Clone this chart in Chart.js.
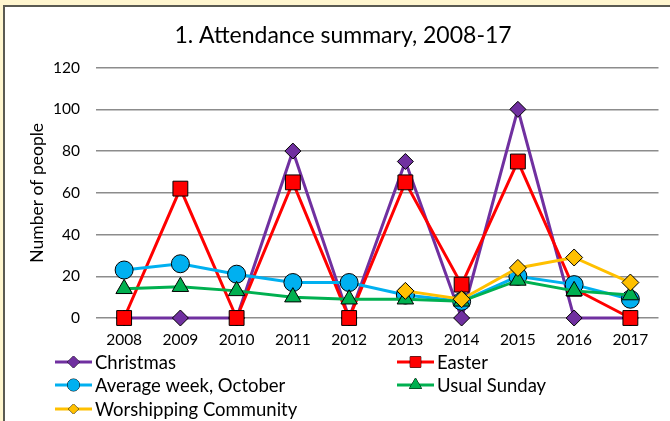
<!DOCTYPE html>
<html>
<head>
<meta charset="utf-8">
<script src="https://cdn.jsdelivr.net/npm/chart.js@4.4.1/dist/chart.umd.min.js"></script>
<style>
  html, body { margin: 0; padding: 0; background: #fff6cf; overflow: hidden; }
  #frame {
    position: absolute; left: 3px; top: 5px; width: 680px; height: 430px;
    background: #fff; border-top: 2px solid #5a5a52; border-left: 2px solid #5a5a52;
  }
  #wrap { position: absolute; left: 0; top: 0; width: 670px; height: 421px; }
</style>
</head>
<body>
<div id="frame"></div>
<div id="wrap"><canvas id="attendance" width="670" height="421"></canvas></div>
<script>
// chart data
const years = ['2008', '2009', '2010', '2011', '2012', '2013', '2014', '2015', '2016', '2017'];
const christmas = [0, 0, 0, 80, 0, 75, 0, 100, 0, 0];
const easter = [0, 62, 0, 65, 0, 65, 16, 75, 14, 0];
const averageWeek = [23, 26, 21, 17, 17, 11, 8, 20, 16, 9];
const usualSunday = [14, 15, 13, 10, 9, 9, 8, 18, 13, 11];
const worshipping = [null, null, null, null, null, 13, 9, 24, 29, 17];
const yTicks = [0, 20, 40, 60, 80, 100, 120];

const font = 'Lato, "Open Sans", sans-serif';

// one entry per series: label, values, colour, marker
const series = [
  { label: 'Christmas', data: christmas, color: '#7030a0', style: 'rectRot', r: 8, lr: 6 },
  { label: 'Easter', data: easter, color: '#ff0000', style: 'rect', r: 10.5, lr: 7.5 },
  { label: 'Average week, October', data: averageWeek, color: '#00b0f0', style: 'circle', r: 9, lr: 6 },
  { label: 'Usual Sunday', data: usualSunday, color: '#00b050', style: 'triangle', r: 9.5, lr: 7 },
  { label: 'Worshipping Community', data: worshipping, color: '#ffc000', style: 'rectRot', r: 8.5, lr: 5 }
];

// legend slots (two columns)
const legendSlots = [
  { x: 55, y: 362 }, { x: 397, y: 362 },
  { x: 55, y: 385 }, { x: 397, y: 385 },
  { x: 55, y: 409 }
];

const legendPlugin = {
  id: 'sideLegend',
  afterDraw(chart) {
    const ctx = chart.ctx;
    chart.data.datasets.forEach((ds, i) => {
      const s = series[i];
      const slot = legendSlots[i];
      ctx.save();
      ctx.strokeStyle = s.color;
      ctx.lineWidth = 3;
      ctx.beginPath();
      ctx.moveTo(slot.x, slot.y);
      ctx.lineTo(slot.x + 37, slot.y);
      ctx.stroke();
      ctx.fillStyle = s.color;
      ctx.strokeStyle = '#000';
      ctx.lineWidth = 1;
      Chart.helpers.drawPoint(ctx, { pointStyle: s.style, radius: s.lr, rotation: 0, borderWidth: 1 },
        slot.x + 18.5, slot.y);
      ctx.fill();
      ctx.fillStyle = '#000';
      ctx.font = '18.5px ' + font;
      ctx.textBaseline = 'middle';
      ctx.fillText(ds.label, slot.x + 40, slot.y + 1);
      ctx.restore();
    });
  }
};

new Chart(document.getElementById('attendance'), {
  type: 'line',
  data: {
    labels: years,
    datasets: series.map((s, i) => ({
      label: s.label,
      data: s.data,
      borderColor: s.color,
      backgroundColor: s.color,
      borderWidth: 3,
      pointStyle: s.style,
      pointRadius: s.r,
      pointBorderColor: '#000',
      pointBorderWidth: 1,
      pointBackgroundColor: s.color,
      spanGaps: false,
      clip: false,
      order: series.length - i
    }))
  },
  options: {
    responsive: false,
    animation: false,
    layout: { padding: { left: 22, right: 6, top: 0, bottom: 63 } },
    plugins: {
      legend: { display: false },
      tooltip: { enabled: false },
      title: {
        display: true,
        text: '1. Attendance summary, 2008-17',
        color: '#000',
        font: { family: font, size: 23, weight: 'normal' },
        padding: { top: 22, bottom: 18 }
      }
    },
    scales: {
      x: {
        offset: true,
        grid: { display: false, drawTicks: false },
        border: { display: false },
        ticks: { color: '#000', font: { family: font, size: 15.5 }, padding: 13, maxRotation: 0 },
        afterFit(scale) { scale.height = 40; }
      },
      y: {
        min: 0,
        max: 120,
        afterBuildTicks(scale) { scale.ticks = yTicks.map(v => ({ value: v })); },
        grid: { color: '#8c8c8c', lineWidth: 1.5, drawTicks: false },
        border: { display: false },
        ticks: { color: '#000', font: { family: font, size: 15.5 }, padding: 16 },
        title: {
          display: true,
          text: 'Number of people',
          color: '#000',
          font: { family: font, size: 17.5 },
          padding: { top: 5, bottom: 0 }
        },
        afterFit(scale) { scale.width = 74; }
      }
    }
  },
  plugins: [legendPlugin]
});
</script>
</body>
</html>
